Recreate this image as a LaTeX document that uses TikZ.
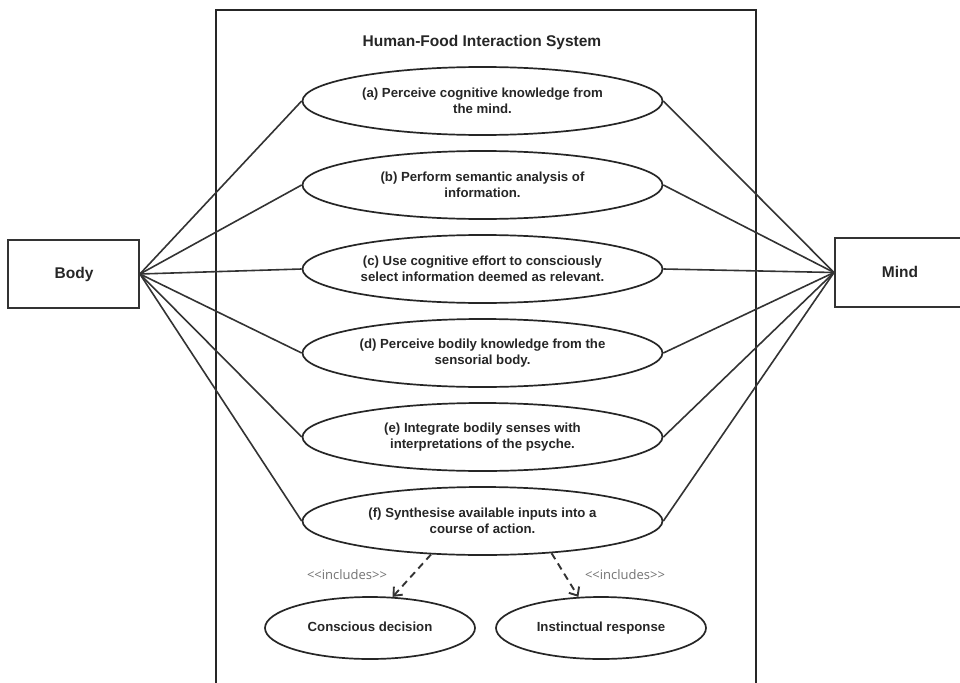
\documentclass[tikz,border=0pt]{standalone}
\usepackage{fontspec}
\setmainfont{Liberation Sans}
\newfontfamily\labelfont{Open Sans}
\usetikzlibrary{shapes.geometric,arrows.meta}
\begin{document}
\begin{tikzpicture}[x=1pt,y=-1pt,
  usecase/.style={ellipse,draw=black!85,line width=1.7pt,minimum width=360pt,minimum height=68pt,
    inner sep=0pt,align=center,font=\fontsize{13.2}{15.5}\selectfont\bfseries,text=black!85},
  subcase/.style={ellipse,draw=black!85,line width=1.7pt,minimum width=210pt,minimum height=62pt,
    inner sep=0pt,text height=9.5pt,text depth=2.8pt,font=\fontsize{13.2}{15.5}\selectfont\bfseries,text=black!85},
  actor/.style={rectangle,draw=black!80,line width=1.8pt,inner sep=0pt},
  actorname/.style={font=\fontsize{15.5}{18}\selectfont\bfseries,text=black!85},
  assoc/.style={draw=black!80,line width=1.6pt},
  incl/.style={draw=black!80,line width=1.9pt,dash pattern=on 7pt off 5pt,-{Straight Barb[length=7pt,width=12pt]}},
  incllabel/.style={text=black!55,font=\labelfont\fontsize{13}{15}\selectfont}
]
\useasboundingbox (0,0) rectangle (960,682);
\fill[white] (0,0) rectangle (960,682);

% system boundary (open at the bottom of the page)
\draw[black!85,line width=2.8pt] (216,695) -- (216,10) -- (756,10) -- (756,695);
\node[actorname] (title) at (482,42) {Human-Food Interaction System};

% actors
\node[actor,minimum width=131pt,minimum height=68pt] (body) at (73.5,274) {};
\node[actorname] (bodytext) at (74,274) {Body};
\node[actor,minimum width=132pt,minimum height=69pt,anchor=west] (mind) at (834,272.5) {};
\node[actorname] (mindtext) at (900,272) {Mind};

% use cases
\node[usecase] (a) at (482.5,101) {(a) Perceive cognitive knowledge from\\the mind.};
\node[usecase] (b) at (482.5,185) {(b) Perform semantic analysis of\\information.};
\node[usecase] (c) at (482.5,269) {(c) Use cognitive effort to consciously\\select information deemed as relevant.};
\node[usecase] (d) at (482.5,353) {(d) Perceive bodily knowledge from the\\sensorial body.};
\node[usecase] (e) at (482.5,437) {(e) Integrate bodily senses with\\interpretations of the psyche.};
\node[usecase] (f) at (482.5,521) {(f) Synthesise available inputs into a\\course of action.};

\node[subcase] (cd) at (370,628) {Conscious decision};
\node[subcase] (ir) at (601,628) {Instinctual response};

% associations
\foreach \u in {a,b,c,d,e,f}{
  \draw[assoc] (body.east) -- (\u.west);
  \draw[assoc] (mind.west) -- (\u.east);
}

% include relations
\draw[incl] (f.213) -- (cd.54);
\draw[incl] (f.335) -- (ir.126);
\node[incllabel] (inc1) at (347,575) {<<includes>>};
\node[incllabel] (inc2) at (625,575) {<<includes>>};
\end{tikzpicture}
\end{document}
